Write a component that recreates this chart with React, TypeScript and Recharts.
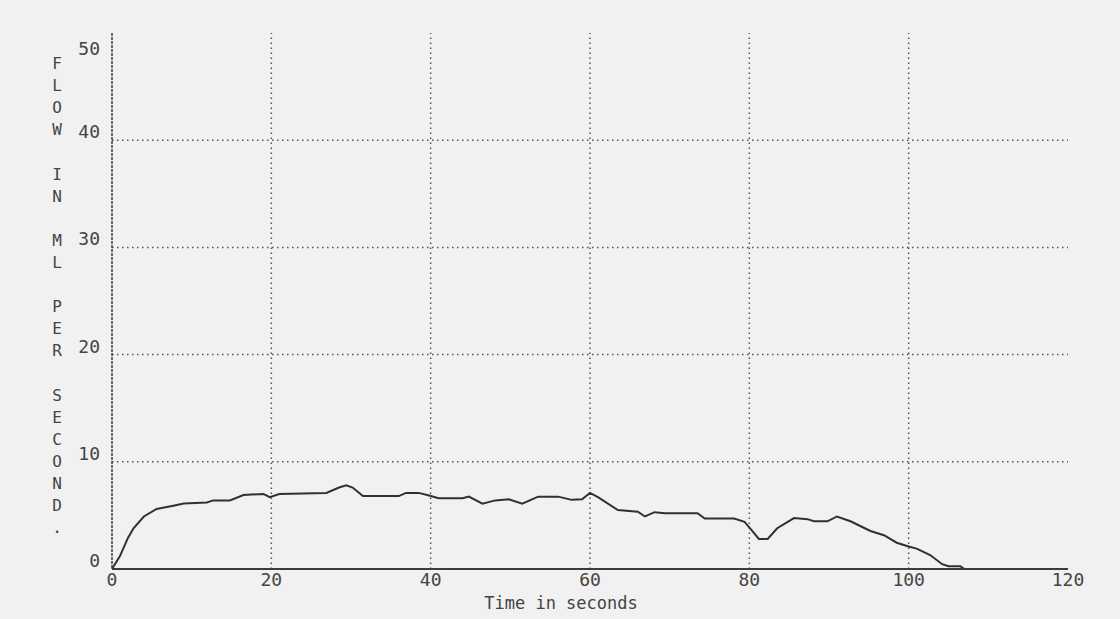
import React from 'react';
import { LineChart, Line, XAxis, YAxis, ReferenceLine, Label } from 'recharts';

// time (s) and flow (ml/s)
const timeSec = [
  0, 0.5, 1.0, 2.0, 2.7, 4.0, 5.6, 7.7, 9.0, 11.9, 12.7, 14.8, 16.5, 19.0, 19.8, 21.0,
  26.9, 28.5, 29.4, 30.2, 31.5, 36.0, 36.9, 38.5, 39.8, 41.0, 44.0, 44.8, 46.5, 48.1,
  49.8, 51.5, 53.5, 56.0, 57.7, 59.0, 60.0, 61.0, 63.5, 66.0, 66.9, 68.1, 69.4, 73.5,
  74.4, 78.1, 79.4, 80.2, 81.2, 82.3, 83.5, 85.6, 87.3, 88.1, 89.8, 91.0, 92.7, 95.2,
  96.9, 98.5, 100, 101, 102.7, 104.2, 105, 106.5, 107,
];
const flowMl = [
  0, 0.6, 1.2, 2.9, 3.8, 4.9, 5.6, 5.9, 6.1, 6.2, 6.4, 6.4, 6.9, 7.0, 6.7, 7.0,
  7.1, 7.6, 7.8, 7.6, 6.8, 6.8, 7.1, 7.1, 6.85, 6.6, 6.6, 6.75, 6.1, 6.4,
  6.5, 6.1, 6.75, 6.75, 6.45, 6.5, 7.1, 6.7, 5.5, 5.35, 4.9, 5.3, 5.2, 5.2,
  4.7, 4.7, 4.4, 3.7, 2.8, 2.8, 3.8, 4.75, 4.65, 4.45, 4.45, 4.9, 4.45, 3.55,
  3.15, 2.45, 2.1, 1.9, 1.3, 0.45, 0.25, 0.25, 0,
];

const xTicks = [0, 20, 40, 60, 80, 100, 120];
const yTicks = [0, 10, 20, 30, 40, 50];
const xGrid = [20, 40, 60, 80, 100];
const yGrid = [10, 20, 30, 40];
const yTitle = 'FLOW IN ML PER SECOND.';
const xTitle = 'Time in seconds';

const data = timeSec.map((t, i) => ({ t, flow: flowMl[i] }));

const ink = '#444';
const font = '"DejaVu Sans Mono", "Liberation Mono", monospace';

const YTick = (props: any) => {
  const { x, y, payload } = props;
  const top = payload.value === 50;
  return (
    <text x={x} y={y} dy={top ? 22 : -2} textAnchor="end" fill={ink} fontSize={18} fontFamily={font}>
      {payload.value}
    </text>
  );
};

const YTitle = (props: any) => {
  const vb = props.viewBox || { x: 0, y: 33 };
  const chars = yTitle.split('');
  return (
    <text x={57} y={vb.y + 36} textAnchor="middle" fill={ink} fontSize={16} fontFamily={font}>
      {chars.map((c, i) => (
        <tspan key={i} x={57} dy={i === 0 ? 0 : 22.1}>{c === ' ' ? '\u00a0' : c}</tspan>
      ))}
    </text>
  );
};

const XTitle = (props: any) => {
  const vb = props.viewBox || { x: 112, y: 569 };
  return (
    <text x={561} y={vb.y + 40} textAnchor="middle" fill={ink} fontSize={17} fontFamily={font}>
      {xTitle}
    </text>
  );
};

export default function App() {
  return (
    <div style={{ position: 'absolute', left: 0, top: 0, width: 1120, height: 619, background: '#f1f1f1' }}>
      <LineChart width={1120} height={619} data={data} margin={{ top: 33, right: 52, bottom: 0, left: 0 }}>
        <XAxis
          dataKey="t"
          type="number"
          domain={[0, 120]}
          ticks={xTicks}
          tickLine={false}
          tickSize={0}
          tickMargin={4}
          height={50}
          axisLine={{ stroke: '#3c3c3c', strokeWidth: 2 }}
          tick={{ fill: ink, fontSize: 18, fontFamily: font }}
        >
          <Label content={<XTitle />} />
        </XAxis>
        <YAxis
          type="number"
          domain={[0, 50]}
          ticks={yTicks}
          width={112}
          tickLine={false}
          tickSize={0}
          tickMargin={12}
          axisLine={{ stroke: '#3c3c3c', strokeWidth: 1.5, strokeDasharray: '3 1' }}
          tick={<YTick />}
        >
          <Label content={<YTitle />} />
        </YAxis>
        {yGrid.map(v => (
          <ReferenceLine key={'h' + v} y={v} stroke="#555" strokeWidth={1.5} strokeDasharray="1.5 3.5" />
        ))}
        {xGrid.map(v => (
          <ReferenceLine key={'v' + v} x={v} stroke="#555" strokeWidth={1.5} strokeDasharray="1.5 3.5" />
        ))}
        <Line
          type="linear"
          dataKey="flow"
          stroke="#303030"
          strokeWidth={2}
          dot={false}
          isAnimationActive={false}
        />
      </LineChart>
    </div>
  );
}
